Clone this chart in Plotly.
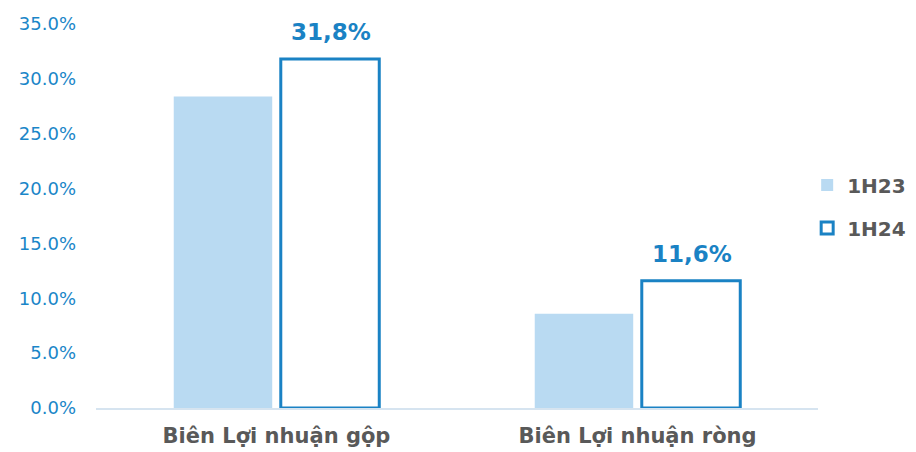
import plotly.graph_objects as go

categories = ["Biên Lợi nhuận gộp", "Biên Lợi nhuận ròng"]
series_names = ["1H23", "1H24"]
values_1h23 = [28.4, 8.6]
values_1h24 = [31.8, 11.6]
labels_1h24 = ["31,8%", "11,6%"]

LIGHT = "#b9daf2"
BLUE = "#1a82c4"
GRAY = "#595959"
FONT = "DejaVu Sans"

fig = go.Figure()
fig.add_trace(go.Bar(
    x=categories, y=values_1h23, name=series_names[0],
    marker=dict(color=LIGHT, line=dict(width=0)),
    legendgroup="a",
))
fig.add_trace(go.Bar(
    x=categories, y=values_1h24, name=series_names[1],
    marker=dict(color="white", line=dict(color=BLUE, width=3)),
    legendgroup="b",
))

for c, v, t in zip(categories, values_1h24, labels_1h24):
    fig.add_annotation(
        x=c, y=v, text=f"<b>{t}</b>", showarrow=False,
        xref="x", yref="y", xshift=54, yshift=27, yanchor="middle",
        font=dict(family=FONT, size=23, color=BLUE),
    )

fig.update_layout(
    width=916, height=452,
    margin=dict(l=96, r=98, t=24, b=44, autoexpand=False),
    paper_bgcolor="white", plot_bgcolor="white",
    barmode="group", bargap=0.407, bargroupgap=0.08,
    font=dict(family=FONT),
    showlegend=True,
    legend=dict(
        x=0.985, xanchor="left", y=0.525, yanchor="middle",
        font=dict(family=FONT, size=20, color=GRAY, weight="bold"),
        traceorder="grouped", tracegroupgap=14,
        itemwidth=30,
        bgcolor="rgba(0,0,0,0)",
    ),
    xaxis=dict(
        showline=True, linecolor="#d6e4f0", linewidth=2,
        showgrid=False, ticks="",
        tickfont=dict(family=FONT, size=21, color=GRAY, weight="bold"),
        ticklabelstandoff=8,
        automargin=False,
    ),
    yaxis=dict(
        range=[0, 35], dtick=5, tickformat=".1f", ticksuffix="%",
        showgrid=False, zeroline=False, showline=False, ticks="",
        tickfont=dict(family=FONT, size=18, color="#1a86c8"),
        ticklabelstandoff=19,
        automargin=False,
    ),
)

fig.write_html(
    "out.html",
    config={"displayModeBar": False},
    post_script="document.body.style.margin='0';document.body.style.overflow='hidden';",
)
